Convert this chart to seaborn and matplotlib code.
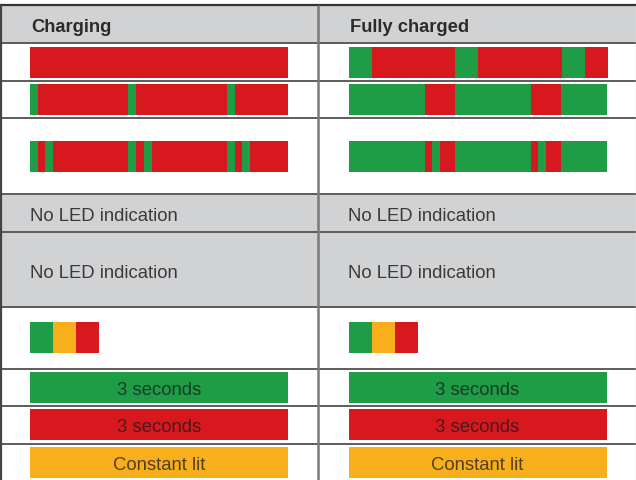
import matplotlib
matplotlib.use("Agg")
import matplotlib.pyplot as plt
import seaborn as sns
import numpy as np

sns.set_style("white")
plt.rcParams["font.family"] = ["Liberation Sans", "DejaVu Sans"]

# column headers
headers = ["Charging", "Fully charged"]
no_led_text = "No LED indication"

# LED sequences: colour code per segment and its duration
chg_row1_leds = ["R"]
chg_row1_time = [258]
chg_row2_leds = ["G", "R", "G", "R", "G", "R"]
chg_row2_time = [8, 90, 8, 91, 8, 53]
chg_row3_leds = ["G", "R", "G", "R", "G", "R", "G", "R", "G", "R", "G", "R"]
chg_row3_time = [8, 7, 8, 75, 8, 8, 8, 75, 8, 7, 8, 38]

full_row1_leds = ["G", "R", "G", "R", "G", "R"]
full_row1_time = [23, 83, 23, 84, 23, 23]
full_row2_leds = ["G", "R", "G", "R", "G"]
full_row2_time = [76, 30, 76, 30, 46]
full_row3_leds = ["G", "R", "G", "R", "G", "R", "G", "R", "G"]
full_row3_time = [76, 7, 8, 15, 76, 7, 8, 15, 46]

# start-up self test (green, amber, red)
test_leds = ["G", "Y", "R"]
test_time = [23, 23, 23]

steady_leds = ["G", "R", "Y"]
steady_labels = ["3 seconds", "3 seconds", "Constant lit"]
steady_time = [258]

palette = {"G": "#1e9c46", "R": "#d7191f", "Y": "#f9af1b"}
grey = "#d1d2d4"

# row boundaries (pixel layout)
edges = [6, 44, 82, 119, 195, 233, 308, 370, 407, 445, 484]
centers = [(a + b) / 2 for a, b in zip(edges[:-1], edges[1:])]
col_x = [30, 348.5]
bar_h = 31

fig = plt.figure(figsize=(6.36, 4.81), dpi=100)
ax = fig.add_axes([0, 0, 1, 1])
ax.set_xlim(0, 636)
ax.set_ylim(481, 0)
ax.axis("off")


def draw_seq(x0, yc, leds, times):
    lefts = x0 + np.concatenate([[0], np.cumsum(times)[:-1]])
    ax.barh([yc] * len(times), times, left=lefts, height=bar_h,
            color=[palette[c] for c in leds], linewidth=0)


# grey rows
for i in (0, 4, 5):
    ax.axhspan(edges[i], edges[i + 1], color=grey, lw=0)

for x, h in zip(col_x, headers):
    ax.text(x + 1, 31.5, h, fontsize=13.2, fontweight="bold", color="#2b2b2b", va="baseline")

draw_seq(col_x[0], centers[1], chg_row1_leds, chg_row1_time)
draw_seq(col_x[0], centers[2], chg_row2_leds, chg_row2_time)
draw_seq(col_x[0], centers[3], chg_row3_leds, chg_row3_time)
draw_seq(col_x[1], centers[1], full_row1_leds, full_row1_time)
draw_seq(col_x[1], centers[2], full_row2_leds, full_row2_time)
draw_seq(col_x[1], centers[3], full_row3_leds, full_row3_time)

for x in col_x:
    ax.text(x, 221, no_led_text, fontsize=13.3, color="#3a3a3a", va="baseline")
    ax.text(x, 278.3, no_led_text, fontsize=13.3, color="#3a3a3a", va="baseline")
    draw_seq(x, 338.5, test_leds, test_time)
    for k, (c, lab) in enumerate(zip(steady_leds, steady_labels)):
        yc = edges[7 + k] + 3 + bar_h / 2
        draw_seq(x, yc, [c], steady_time)
        ax.text(x + steady_time[0] / 2, yc + 7, lab, fontsize=13.3, color="#1a1a1a",
                alpha=0.75, ha="center", va="baseline")

# table rules
ax.hlines(edges[1:-1], 0, 636, color="#5c5c5c", lw=1.4)
ax.hlines(edges[0], 0, 636, color="#333333", lw=1.6)
ax.vlines(1, edges[0], 481, color="#444444", lw=1.6)
ax.vlines(318, edges[0], 481, color="#7a7a7a", lw=1.8)
ax.vlines(635.5, edges[0], 481, color="#dddddd", lw=1)

fig.savefig("out.png", dpi=100)
